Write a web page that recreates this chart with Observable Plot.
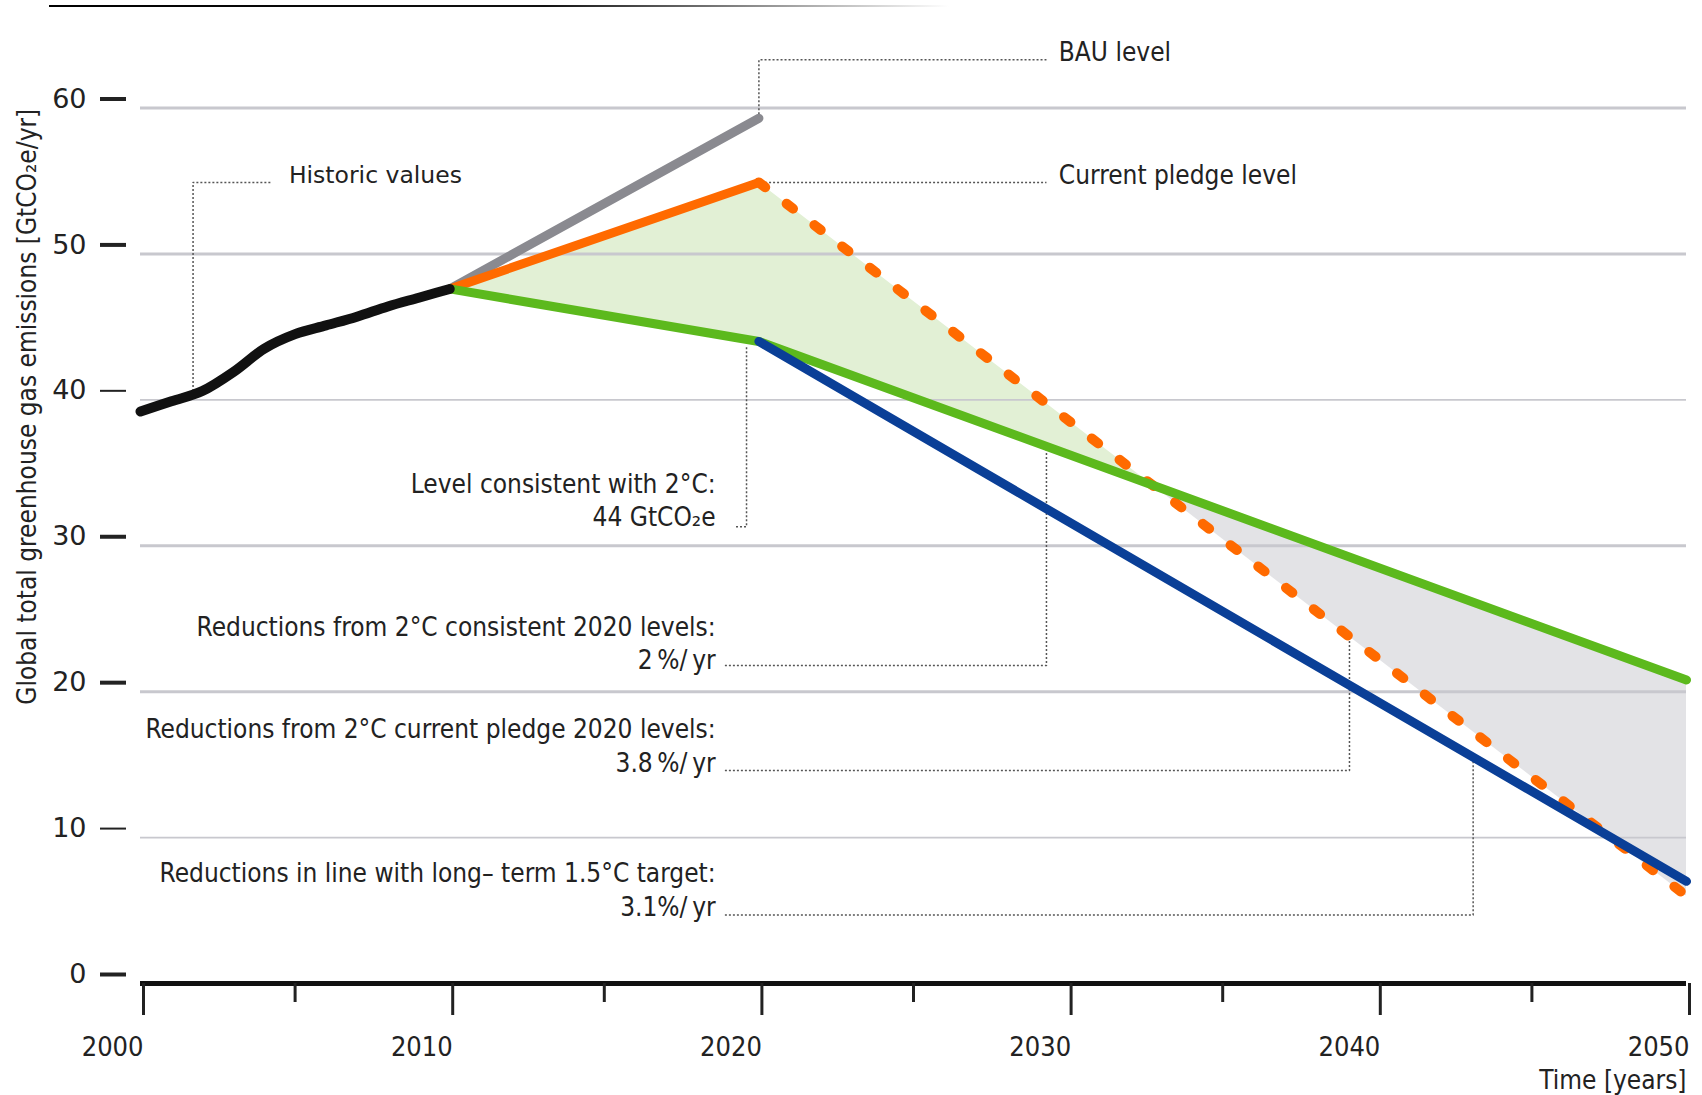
<!DOCTYPE html>
<html><head><meta charset="utf-8">
<script src="https://cdn.jsdelivr.net/npm/d3@7"></script>
<script src="https://cdn.jsdelivr.net/npm/@observablehq/plot@0.6"></script>
<style>
body{margin:0;background:#fff;}
#topline{margin:5px 0 0 49px;width:900px;height:2px;background:linear-gradient(to right,#000 0%,#111 55%,#fff 100%);}
</style></head><body>
<div id="topline"></div>
<div id="chart"></div>
<script>
// ---- data ----
const histYears = [2000, 2001, 2002, 2003, 2004, 2005, 2006, 2007, 2008, 2009, 2010];
const histValues = [39.2, 39.9, 40.6, 41.9, 43.5, 44.5, 45.1, 45.7, 46.4, 47.0, 47.6];
const bauYears = [2010, 2020];
const bauValues = [47.6, 59.3];
const pledgeYears = [2010, 2020];
const pledgeValues = [47.6, 54.9];
const pledgePathYears = [2020, 2050];
const pledgePathValues = [54.9, 6.0];
const twoDegYears = [2010, 2020, 2050];
const twoDegValues = [47.6, 44.0, 20.8];
const onePointFiveYears = [2020, 2050];
const onePointFiveValues = [44.0, 7.0];

const yTicksBold = [60, 50, 30, 20, 0];
const yTicksThin = [40, 10];
const xTicksMajor = [2000, 2010, 2020, 2030, 2040, 2050];
const xTicksMinor = [2005, 2015, 2025, 2035, 2045];

const yLabel = "Global total greenhouse gas emissions [GtCO\u2082e/yr]";
const xLabel = "Time [years]";

// annotation texts (anchor year/value)
const notesLeft = [
  {year: 2004.8, value: 55.6, text: "Historic values"}
];
const notesRight = [
  {year: 2029.7, value: 64.0, text: "BAU level"},
  {year: 2029.7, value: 55.6, text: "Current pledge level"}
];
const notesEnd = [
  {year: 2018.6, value: 34.4, text: "Level consistent with 2\u00B0C:"},
  {year: 2018.6, value: 32.1, text: "44 GtCO\u2082e"},
  {year: 2018.6, value: 24.6, text: "Reductions from 2\u00B0C consistent 2020 levels:"},
  {year: 2018.6, value: 22.3, text: "2\u2009%/\u2009yr"},
  {year: 2018.6, value: 17.6, text: "Reductions from 2\u00B0C current pledge 2020 levels:"},
  {year: 2018.6, value: 15.3, text: "3.8\u2009%/\u2009yr"},
  {year: 2018.6, value: 7.7, text: "Reductions in line with long\u2013 term 1.5\u00B0C target:"},
  {year: 2018.6, value: 5.4, text: "3.1%/\u2009yr"}
];
// leader lines (dotted)
const leaders = [
  {id: "hist", pts: [[2004.2, 54.9], [2001.7, 54.9], [2001.7, 40.4]]},
  {id: "bau", pts: [[2020, 59.3], [2020, 63.3], [2029.3, 63.3]]},
  {id: "pledge", pts: [[2020.2, 54.9], [2029.3, 54.9]]},
  {id: "lvl", pts: [[2019.6, 43.6], [2019.6, 31.3], [2019.2, 31.3]]},
  {id: "r2", pts: [[2018.9, 21.8], [2029.3, 21.8], [2029.3, 36.8]]},
  {id: "r38", pts: [[2018.9, 14.6], [2039.1, 14.6], [2039.1, 23.6]]},
  {id: "r31", pts: [[2018.9, 4.7], [2043.1, 4.7], [2043.1, 15.5]]}
];

// ---- derived tables ----
const toRows = (xs, ys) => xs.map((x, i) => ({year: x, value: ys[i]}));
const hist = toRows(histYears, histValues);
const bau = toRows(bauYears, bauValues);
const pledge = toRows(pledgeYears, pledgeValues);
const pledgePath = toRows(pledgePathYears, pledgePathValues);
const twoDeg = toRows(twoDegYears, twoDegValues);
const onePointFive = toRows(onePointFiveYears, onePointFiveValues);

// crossing of pledge path and 2°C path (both straight after 2020)
const dP = pledgePathValues[1] - pledgePathValues[0];
const dG = twoDegValues[2] - twoDegValues[1];
const s = (pledgePathValues[0] - twoDegValues[1]) / (dG - dP);
const crossYear = 2020 + s * 30;
const crossVal = twoDegValues[1] + dG * s;

const greenArea = [
  {year: twoDegYears[0], lo: twoDegValues[0], hi: pledgeValues[0]},
  {year: twoDegYears[1], lo: twoDegValues[1], hi: pledgeValues[1]},
  {year: crossYear, lo: crossVal, hi: crossVal}
];
const grayArea = [
  {year: crossYear, lo: crossVal, hi: crossVal},
  {year: 2050, lo: pledgePathValues[1], hi: twoDegValues[2]}
];
const leaderRows = leaders.flatMap(l => l.pts.map(([x, y]) => ({id: l.id, year: x, value: y})));

const COND = '"DejaVu Sans Condensed","Liberation Sans Narrow","Noto Sans Condensed","Roboto Condensed",sans-serif';
const WIDE = '"DejaVu Sans",Verdana,sans-serif';

const chart = Plot.plot({
  width: 1702,
  height: 1088,
  marginLeft: 140,
  marginRight: 16,
  marginTop: 100.5,
  marginBottom: 112,
  x: {domain: [2000, 2050], axis: null},
  y: {domain: [0, 60], axis: null},
  style: {fontFamily: COND, background: "#fff", color: "#222"},
  marks: [
    Plot.areaY(greenArea, {x: "year", y1: "lo", y2: "hi", fill: "#e2f0d5"}),
    Plot.areaY(grayArea, {x: "year", y1: "lo", y2: "hi", fill: "#e3e3e6"}),
    Plot.ruleY(yTicksBold.filter(d => d > 0), {stroke: "#c8c8ce", strokeWidth: 3}),
    Plot.ruleY(yTicksThin, {stroke: "#c8c8ce", strokeWidth: 1.6}),
    Plot.line(leaderRows, {x: "year", y: "value", z: "id", stroke: "#555", strokeWidth: 1.5, strokeDasharray: "2,2", strokeLinecap: "butt", curve: "linear"}),
    Plot.line(bau, {x: "year", y: "value", stroke: "#8a8a90", strokeWidth: 9}),
    Plot.line(pledge, {x: "year", y: "value", stroke: "#ff6a00", strokeWidth: 9}),
    Plot.line(pledgePath, {x: "year", y: "value", stroke: "#ff6a00", strokeWidth: 10, strokeDasharray: "8,27"}),
    Plot.line(twoDeg, {x: "year", y: "value", stroke: "#5cb91d", strokeWidth: 9}),
    Plot.line(onePointFive, {x: "year", y: "value", stroke: "#0a3f97", strokeWidth: 9}),
    Plot.line(hist, {x: "year", y: "value", stroke: "#111", strokeWidth: 10, curve: "monotone-x"}),
    // y axis: short black ticks left of frame
    Plot.axisY(yTicksBold, {tickSize: 26, dx: -14, strokeWidth: 4, tickPadding: 14, dy: -9, fontSize: 27, fontFamily: WIDE, label: null, fill: "#222", tickFormat: d => d}),
    Plot.axisY(yTicksThin, {tickSize: 26, dx: -14, strokeWidth: 2, tickPadding: 14, dy: -9, fontSize: 27, fontFamily: WIDE, label: null, fill: "#222", tickFormat: d => d}),
    // x axis
    Plot.ruleY([0], {stroke: "#111", strokeWidth: 5}),
    Plot.axisX(xTicksMajor, {tickSize: 32, strokeWidth: 3, tickPadding: 21, textAnchor: "end", dx: 3, fontSize: 27, fontFamily: COND, label: null, fill: "#222", tickFormat: d => String(d)}),
    Plot.axisX(xTicksMinor, {tickSize: 19, strokeWidth: 3, tickFormat: () => "", label: null}),
    // labels
    Plot.text([xLabel], {frameAnchor: "bottom-right", dy: 105, fontSize: 26, textAnchor: "end", fill: "#222"}),
    Plot.text([yLabel], {frameAnchor: "left", textAnchor: "middle", rotate: -90, dx: -113, dy: -139, fontSize: 26, fill: "#222"}),
    // annotations
    Plot.text(notesLeft, {x: "year", y: "value", text: "text", textAnchor: "start", dy: 3, fontSize: 23.5, fontFamily: WIDE, fill: "#222"}),
    Plot.text(notesRight, {x: "year", y: "value", text: "text", textAnchor: "start", dy: 3, fontSize: 26, fill: "#222"}),
    Plot.text(notesEnd, {x: "year", y: "value", text: "text", textAnchor: "end", dy: 3, fontSize: 26, fill: "#222"})
  ]
});
document.getElementById("chart").appendChild(chart);
</script>
</body></html>
